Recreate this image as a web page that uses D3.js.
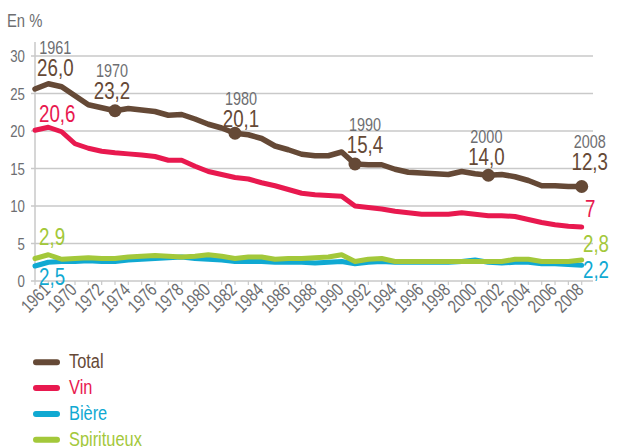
<!DOCTYPE html>
<html>
<head>
<meta charset="utf-8">
<script src="https://cdn.jsdelivr.net/npm/d3@7"></script>
<style>
  html, body { margin: 0; padding: 0; background: #fff; }
  svg text { font-family: "Liberation Sans", Arial, sans-serif; }
</style>
</head>
<body>
<div id="chart"></div>
<script>
// categories (only every other one is labelled on the axis)
const years = ["1960", "1961", "1965", "1970", "1971", "1972", "1973", "1974", "1975", "1976",
  "1977", "1978", "1979", "1980", "1981", "1982", "1983", "1984", "1985", "1986",
  "1987", "1988", "1989", "1990", "1991", "1992", "1993", "1994", "1995", "1996",
  "1997", "1998", "1999", "2000", "2001", "2002", "2003", "2004", "2005", "2006",
  "2007", "2008"];
const tickYears = ["1961", "1970", "1972", "1974", "1976", "1978", "1980", "1982", "1984", "1986",
  "1988", "1990", "1992", "1994", "1996", "1998", "2000", "2002", "2004", "2006", "2008"];
const yTicks = [0, 5, 10, 15, 20, 25, 30];

const total = [25.6, 26.3, 25.9, 24.7, 23.5, 23.1, 22.7, 23.0, 22.8, 22.6,
  22.1, 22.2, 21.6, 20.9, 20.4, 19.7, 19.5, 19.0, 18.0, 17.5,
  16.9, 16.7, 16.7, 17.2, 15.6, 15.5, 15.5, 14.9, 14.5, 14.4,
  14.3, 14.2, 14.6, 14.3, 14.1, 14.2, 13.9, 13.4, 12.7, 12.7,
  12.6, 12.6];
const vin = [20.1, 20.5, 19.9, 18.3, 17.7, 17.3, 17.1, 16.95, 16.8, 16.6,
  16.1, 16.1, 15.3, 14.6, 14.2, 13.8, 13.6, 13.1, 12.7, 12.2,
  11.7, 11.5, 11.4, 11.3, 10.0, 9.8, 9.6, 9.3, 9.1, 8.9,
  8.9, 8.9, 9.1, 8.9, 8.7, 8.7, 8.6, 8.2, 7.8, 7.5,
  7.3, 7.2];
const biere = [2.0, 2.5, 2.6, 2.6, 2.7, 2.6, 2.6, 2.8, 2.9, 3.0,
  3.1, 3.2, 3.0, 2.9, 2.8, 2.6, 2.6, 2.6, 2.5, 2.5,
  2.5, 2.4, 2.5, 2.6, 2.3, 2.5, 2.6, 2.5, 2.5, 2.5,
  2.5, 2.5, 2.6, 2.8, 2.5, 2.4, 2.5, 2.5, 2.3, 2.3,
  2.2, 2.1];
const spiritueux = [3.0, 3.5, 2.9, 3.0, 3.1, 3.0, 3.0, 3.2, 3.3, 3.4,
  3.3, 3.2, 3.3, 3.5, 3.3, 3.0, 3.2, 3.2, 2.9, 3.0,
  3.0, 3.1, 3.2, 3.5, 2.6, 2.9, 3.0, 2.6, 2.6, 2.6,
  2.6, 2.6, 2.6, 2.6, 2.6, 2.6, 2.9, 2.9, 2.6, 2.6,
  2.6, 2.8];

const seriesNames = ["Total", "Vin", "Bière", "Spiritueux"];
const colors = { "Total": "#654936", "Vin": "#e8194f", "Bière": "#10a9d2", "Spiritueux": "#a3c83a" };

// annotated years on the total line
const markYears = ["1961", "1970", "1980", "1990", "2000", "2008"];
const markValues = ["26,0", "23,2", "20,1", "15,4", "14,0", "12,3"];
const markAt = ["1961", "1973", "1982", "1991", "2001", "2008"];
const markDot = [false, true, true, true, true, true];

// start / end value labels
const sideLabels = [
  { serie: "Vin", at: "1961", text: "20,6" },
  { serie: "Spiritueux", at: "1961", text: "2,9" },
  { serie: "Bière", at: "1961", text: "2,5" },
  { serie: "Vin", at: "2008", text: "7" },
  { serie: "Spiritueux", at: "2008", text: "2,8" },
  { serie: "Bière", at: "2008", text: "2,2" }
];

const W = 631, H = 447;
const gray = "#6d6e71";
const narrow = 0.78; // condensed look

const svg = d3.select("#chart").append("svg")
  .attr("width", W).attr("height", H);

const x = d3.scalePoint().domain(years).range([35, 581.7]);
const y = d3.scaleLinear().domain([0, 30]).range([281, 56]);

const valuesOf = { "Total": total, "Vin": vin, "Bière": biere, "Spiritueux": spiritueux };

// condensed text helper
const put = (sel, fx, fy, rot) => sel.attr("transform", (d, i) =>
  `translate(${fx(d, i)},${fy(d, i)})${rot ? ` rotate(${rot})` : ""} scale(${narrow},1)`);

// grid
svg.append("g").selectAll("line")
  .data(yTicks).enter().append("line")
  .attr("x1", 31).attr("x2", 593)
  .attr("y1", d => y(d)).attr("y2", d => y(d))
  .attr("stroke", "#c9c9c9").attr("stroke-width", 1.5);

svg.append("line")
  .attr("x1", 35).attr("x2", 35).attr("y1", 42).attr("y2", 281)
  .attr("stroke", "#c9c9c9").attr("stroke-width", 1.5);

// y labels
svg.append("g").selectAll("text")
  .data(yTicks).enter().append("text")
  .call(put, () => 25, d => y(d) + 6)
  .attr("text-anchor", "end")
  .attr("fill", gray).style("font-size", "17px")
  .text(d => d);

svg.append("text")
  .call(put, () => 7, () => 27)
  .attr("fill", gray).style("font-size", "19px")
  .text("En %");

// x ticks
svg.append("g").selectAll("line")
  .data(years).enter().append("line")
  .attr("x1", d => x(d)).attr("x2", d => x(d))
  .attr("y1", 281).attr("y2", 285)
  .attr("stroke", "#c9c9c9").attr("stroke-width", 1.2);

svg.append("g").selectAll("text")
  .data(tickYears).enter().append("text")
  .call(put, d => x(d) + 3, () => 291, -45)
  .attr("text-anchor", "end")
  .attr("fill", gray).style("font-size", "18.5px")
  .text(d => d);

// lines
const line = d3.line()
  .x((d, i) => x(years[i]))
  .y(d => y(d));

["Bière", "Spiritueux", "Vin", "Total"].forEach(name => {
  svg.append("path")
    .datum(valuesOf[name])
    .attr("d", line)
    .attr("fill", "none")
    .attr("stroke", colors[name])
    .attr("stroke-width", name === "Total" ? 5.5 : 5)
    .attr("stroke-linejoin", "round")
    .attr("stroke-linecap", "round");
});

// annotations on total
const markLayout = [[7, -8], [-3, -11.5], [6, -6.5], [10, -11], [-2, -10], [8, -17]];
markYears.forEach((yr, i) => {
  const idx = years.indexOf(markAt[i]);
  const cx = x(markAt[i]);
  const cy = y(total[idx]);
  if (markDot[i]) {
    svg.append("circle")
      .attr("cx", cx).attr("cy", cy).attr("r", 6.5)
      .attr("fill", colors["Total"]);
  }
  const lx = cx + markLayout[i][0];
  const ly = cy + markLayout[i][1];
  svg.append("text")
    .call(put, () => lx, () => ly)
    .attr("text-anchor", "middle")
    .attr("fill", colors["Total"]).style("font-size", "24px")
    .text(markValues[i]);
  svg.append("text")
    .call(put, () => lx, () => ly - 22)
    .attr("text-anchor", "middle")
    .attr("fill", gray).style("font-size", "18.5px")
    .text(yr);
});

const sideLayout = [[-9.3, -5.5], [-9.3, -10], [-9.3, 23], [3.3, -10], [1.3, -8], [1.3, 13]];
sideLabels.forEach((s, i) => {
  const idx = years.indexOf(s.at);
  svg.append("text")
    .call(put, () => x(s.at) + sideLayout[i][0], () => y(valuesOf[s.serie][idx]) + sideLayout[i][1])
    .attr("fill", colors[s.serie]).style("font-size", "24px")
    .text(s.text);
});

// legend
const leg = svg.append("g").selectAll("g")
  .data(seriesNames).enter().append("g")
  .attr("transform", (d, i) => `translate(0,${368.3 + i * 25.8})`);
leg.append("line")
  .attr("x1", 36).attr("x2", 57).attr("y1", -6).attr("y2", -6)
  .attr("stroke", d => colors[d]).attr("stroke-width", 6)
  .attr("stroke-linecap", "round");
leg.append("text")
  .call(put, () => 69, () => 0)
  .attr("fill", d => colors[d]).style("font-size", "21px")
  .text(d => d);
</script>
</body>
</html>
